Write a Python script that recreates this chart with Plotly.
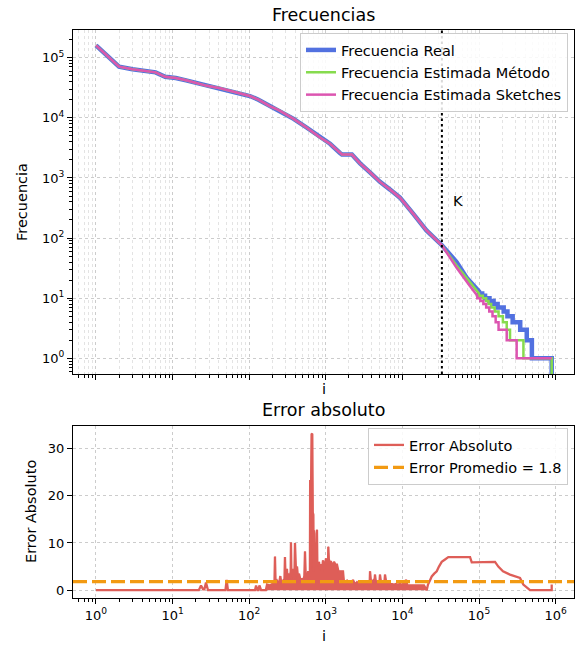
import math
import plotly.graph_objects as go

# ---------------------------------------------------------------- data
K = 32768            # number of exactly-counted items
N_ITEMS = 889000     # last rank
ERROR_MEAN = 1.8

# rank/frequency head shared by the three curves (ranks 1 .. K)
head_rank = [1, 2, 3, 5, 6, 8, 11, 15, 19, 28, 42, 62, 102, 132, 188, 240,
             380, 560, 840, 1135, 1530, 1625, 2190, 2800, 3800, 5100, 6900,
             9300, 13800, 20600, K]
head_freq = [1.6e5, 7.1e4, 6.4e4, 6.0e4, 5.7e4, 4.8e4, 4.6e4, 4.2e4, 3.9e4,
             3.4e4, 3.1e4, 2.75e4, 2.3e4, 2.0e4, 1.55e4, 1.35e4, 9.6e3, 6.9e3,
             4.7e3, 3.7e3, 2.6e3, 2.45e3, 2.45e3, 1.75e3, 1.23e3, 860, 640,
             470, 255, 134, 76]

# real frequency after K
real_tail_rank = [51000, 69000, 100000]
real_tail_freq = [40, 22, 13]
real_step_start = [1.0e5, 1.1e5, 1.2e5, 1.37e5, 1.55e5, 1.75e5, 2.1e5,
                   2.35e5, 2.75e5, 3.45e5, 4.2e5, 4.9e5]
real_step_level = [12, 11, 10, 9, 8, 7, 6, 5, 4, 3, 2, 1]

# estimated frequency (method) after K
met_tail_rank = [51000, 76000, 100000]
met_tail_freq = [35, 18.6, 12]
met_step_start = [1.0e5, 1.12e5, 1.24e5, 1.33e5, 1.44e5, 1.6e5, 1.8e5,
                  2.05e5, 2.3e5, 2.54e5, 3.8e5]
met_step_level = [11, 10, 9, 8, 7, 6, 5, 4, 3, 2, 1]

# estimated frequency (sketches) after K
sk_tail_rank = [51000, 76000, 95000]
sk_tail_freq = [32, 16, 11]
sk_step_start = [9.5e4, 1.04e5, 1.14e5, 1.24e5, 1.36e5, 1.5e5, 1.65e5,
                 1.8e5, 2.3e5, 3.1e5]
sk_step_level = [10, 9, 8, 7, 6, 5, 4, 3, 2, 1]

# absolute error, low ranks
err_low_rank = [1, 22, 23.5, 25, 26, 27.3, 29, 49, 50.8, 52.8, 119, 123, 128,
                132, 136, 143, 165]
err_low_val = [0, 0, 1.0, 0.2, 0.2, 1.6, 0, 0, 2.2, 0, 0, 1.0, 0, 0, 1.0, 0, 0]

# absolute error, dense region
err_dense_rank = [171, 187, 200, 210, 214, 217, 221, 231, 245, 255, 262, 276,
                  288, 293, 299, 305, 311, 318, 326, 338, 348, 351, 356, 364,
                  373, 381, 390, 396, 402, 410, 421, 434, 447, 470, 490, 504,
                  525, 535, 548, 568, 590, 610, 620, 625, 641, 652, 666, 676,
                  688, 696, 701, 710, 722, 745, 762, 767, 775, 800, 815, 840,
                  866, 890, 919, 960, 1006, 1040, 1070, 1079, 1095, 1130, 1169,
                  1220, 1280, 1340, 1400, 1460, 1532, 1600, 1678, 1730, 1781,
                  1900, 2070, 2180, 2265, 2400, 2555, 2750, 2970, 3150, 3350,
                  3600, 3740, 3780, 3900, 4130, 4300, 4385, 4550, 4800, 5000,
                  5100, 5300, 5585, 5800, 5930, 6200, 6490, 7000, 7320, 7800,
                  8250, 8700, 9300, 9700, 10180, 10800, 11140, 11600, 12560,
                  13500, 14600, 15800, 16980, 18000, 19140, 20750]
err_dense_val = [1.2, 1.0, 1.3, 1.2, 2.0, 7.1, 1.5, 2.0, 1.3, 3.0, 1.5, 2.0,
                 1.5, 7.0, 2.0, 3.0, 4.5, 2.0, 3.5, 2.5, 4.0, 10.1, 3.0, 4.0,
                 4.5, 2.5, 3.5, 10.0, 4.0, 3.0, 5.0, 2.5, 3.5, 2.0, 2.5, 2.0,
                 3.0, 8.2, 2.5, 2.5, 4.0, 3.0, 3.0, 23.3, 20.0, 33.0, 33.1, 16.4,
                 16.0, 4.0, 12.6, 12.0, 5.0, 6.0, 5.0, 12.8, 6.0, 5.5, 6.0, 4.5,
                 5.5, 4.0, 6.3, 4.5, 6.7, 5.5, 6.0, 9.2, 6.5, 6.0, 6.0,
                 5.0, 6.0, 5.4, 5.4, 4.0, 4.0, 4.0, 4.0, 1.5, 1.2,
                 2.0, 1.2, 1.5, 2.2, 1.2, 1.7, 1.2, 1.7, 1.2, 1.7,
                 1.3, 1.5, 4.0, 1.5, 2.0, 1.3, 3.3, 1.2, 2.0, 1.3,
                 3.3, 1.2, 2.0, 1.3, 3.3, 1.2, 2.0, 1.3, 1.3, 1.2,
                 1.3, 1.2, 1.3, 1.2, 1.3, 1.3, 2.2, 1.0, 1.0,
                 1.0, 1.0, 1.0, 1.0, 1.0, 1.0, 0]

# absolute error, high ranks
err_high_rank = [21580, 22800, 24140, 26000, 28060, 30000, 32600, 36000,
                 39740, 60000, 76400, 80400, 120000, 161800, 178600, 205700,
                 254000, 300000, 342800, 378600, 463400, N_ITEMS, N_ITEMS]
err_high_val = [1.2, 2.0, 2.9, 3.5, 4.0, 5.0, 6.0, 6.5, 7.0, 7.0, 7.0, 5.9,
                6.0, 6.0, 5.0, 4.0, 3.3, 3.0, 2.6, 1.2, 0, 0, 1.2]

# ---------------------------------------------------------------- style
FONT = "DejaVu Sans"
C_REAL = "#5271e0"
C_MET = "#86db4e"
C_SK = "#dc55b0"
C_ERR = "#de5e58"
C_AVG = "#f29a12"
GRID = "rgba(0,0,0,0.2)"
GRID_MINOR = "rgba(0,0,0,0.11)"

W, H = 579, 647
ML, MR, MT, MB = 73, 5, 30, 49
PW, PH = W - ML - MR, H - MT - MB


def py(pix):
    """page pixel row -> paper y"""
    return (H - MB - pix) / PH


def px(pix):
    """page pixel column -> paper x"""
    return (pix - ML) / PW


X_RANGE = [-0.30, 6.24]
Y1_RANGE = [-0.26, 5.46]
Y2_RANGE = [-1.65, 34.75]
LOG_FLOOR = 1e-3   # non-positive values are clipped below the axis


def curve(tail_r, tail_f, starts, levels, end, final=None):
    xs = list(head_rank) + list(tail_r)
    ys = list(head_freq) + list(tail_f)
    for k, (s, v) in enumerate(zip(starts, levels)):
        e = starts[k + 1] if k + 1 < len(starts) else end
        xs += [s, e]
        ys += [v, v]
    if final is not None:
        xs.append(end)
        ys.append(final)
    ys = [y if y > 0 else LOG_FLOOR for y in ys]
    return xs, ys


rx, ry = curve(real_tail_rank, real_tail_freq, real_step_start,
               real_step_level, N_ITEMS, final=0)
mx, my = curve(met_tail_rank, met_tail_freq, met_step_start,
               met_step_level, N_ITEMS, final=0)
sx, sy = curve(sk_tail_rank, sk_tail_freq, sk_step_start,
               sk_step_level, N_ITEMS)

fig = go.Figure()

fig.add_trace(go.Scatter(x=rx, y=ry, mode="lines", name="Frecuencia Real",
                         line=dict(color=C_REAL, width=4.5),
                         xaxis="x", yaxis="y", legend="legend",
                         legendgroup="a"))
fig.add_trace(go.Scatter(x=mx, y=my, mode="lines",
                         name="Frecuencia Estimada Método",
                         line=dict(color=C_MET, width=2.5),
                         xaxis="x", yaxis="y", legend="legend",
                         legendgroup="b"))
fig.add_trace(go.Scatter(x=sx, y=sy, mode="lines",
                         name="Frecuencia Estimada Sketches",
                         line=dict(color=C_SK, width=2.5),
                         xaxis="x", yaxis="y", legend="legend",
                         legendgroup="c"))

# error: dense oscillation region rendered as a solid band
fig.add_trace(go.Scatter(x=err_dense_rank, y=err_dense_val, mode="lines",
                         fill="tozeroy", fillcolor=C_ERR,
                         line=dict(color=C_ERR, width=1),
                         showlegend=False, hoverinfo="skip",
                         xaxis="x2", yaxis="y2"))
err_rank = err_low_rank + err_dense_rank + err_high_rank
err_val = err_low_val + err_dense_val + err_high_val
fig.add_trace(go.Scatter(x=err_rank, y=err_val, mode="lines",
                         name="Error Absoluto",
                         line=dict(color=C_ERR, width=2.3),
                         xaxis="x2", yaxis="y2", legend="legend2",
                         legendgroup="d"))
fig.add_trace(go.Scatter(x=[10 ** X_RANGE[0], 10 ** X_RANGE[1]],
                         y=[ERROR_MEAN, ERROR_MEAN], mode="lines",
                         name=f"Error Promedio = {ERROR_MEAN}",
                         line=dict(color=C_AVG, width=3.2, dash="14px,5px"),
                         xaxis="x2", yaxis="y2", legend="legend2",
                         legendgroup="e"))

# K marker
fig.add_shape(type="line", xref="x", yref="y domain",
              x0=K, x1=K, y0=0, y1=1,
              line=dict(color="black", width=2, dash="2.5px,3px"))
fig.add_annotation(x=math.log10(K * 1.32), y=math.log10(420), xref="x",
                   yref="y", text="K", showarrow=False, xanchor="left",
                   yanchor="middle", font=dict(size=14.5, color="black"))

dec_vals = [10 ** d for d in range(0, 7)]
dec_text = [f"10<sup>{d}</sup>" for d in range(0, 7)]
minor_vals = [k * 10 ** d for d in range(-1, 7) for k in range(2, 10)]

axis_common = dict(showline=True, linecolor="black", linewidth=1,
                   mirror=True, ticks="outside", ticklen=5, tickwidth=1,
                   tickcolor="black", zeroline=False,
                   tickfont=dict(size=13, color="black"))

xminor = dict(tickmode="array", tickvals=minor_vals, ticks="outside",
              ticklen=3, tickwidth=0.8, tickcolor="black")

fig.update_layout(
    width=W, height=H,
    margin=dict(l=ML, r=MR, t=MT, b=MB, pad=0),
    paper_bgcolor="white", plot_bgcolor="white",
    font=dict(family=FONT, color="black"),
    xaxis=dict(type="log", range=X_RANGE, domain=[0, 1], anchor="y",
               tickmode="array", tickvals=dec_vals, showticklabels=False,
               showgrid=True, gridcolor=GRID, griddash="dot", gridwidth=0.8,
               minor=dict(xminor, showgrid=True, gridcolor=GRID_MINOR,
                          griddash="dot", gridwidth=0.7),
               **axis_common),
    yaxis=dict(type="log", range=Y1_RANGE, domain=[py(374), 1], anchor="x",
               tickmode="array", tickvals=[10 ** d for d in range(0, 6)],
               ticktext=[f"10<sup>{d}</sup>" for d in range(0, 6)],
               showgrid=True, gridcolor=GRID, griddash="dot", gridwidth=0.8,
               minor=dict(tickmode="array", tickvals=minor_vals,
                          ticks="outside", ticklen=3, tickwidth=0.8,
                          tickcolor="black", showgrid=False),
               **axis_common),
    xaxis2=dict(type="log", range=X_RANGE, domain=[0, 1], anchor="y2",
                tickmode="array", tickvals=dec_vals, ticktext=dec_text,
                showgrid=True, gridcolor=GRID, griddash="dot", gridwidth=0.8,
                minor=dict(xminor, showgrid=False),
                **axis_common),
    yaxis2=dict(range=Y2_RANGE, domain=[0, py(426)], anchor="x2",
                tickmode="array", tickvals=[0, 10, 20, 30],
                showgrid=True, gridcolor=GRID, griddash="dot", gridwidth=0.8,
                **axis_common),
    legend=dict(x=px(568), y=py(33), xanchor="right", yanchor="top",
                bgcolor="rgba(255,255,255,0.85)", bordercolor="#cccccc",
                borderwidth=1, font=dict(size=14.5, color="black"),
                tracegroupgap=0.5, itemwidth=30),
    legend2=dict(x=px(568), y=py(428), xanchor="right", yanchor="top",
                 bgcolor="rgba(255,255,255,0.85)", bordercolor="#cccccc",
                 borderwidth=1, font=dict(size=14.5, color="black"),
                 tracegroupgap=0.5, itemwidth=30),
)

titles = [
    dict(text="Frecuencias", x=0.5, y=py(15), size=17.5, angle=0),
    dict(text="Error absoluto", x=0.5, y=py(410), size=17.5, angle=0),
    dict(text="i", x=0.5, y=py(389), size=14.5, angle=0),
    dict(text="i", x=0.5, y=py(636), size=14.5, angle=0),
    dict(text="Frecuencia", x=px(22), y=py(202), size=14.5, angle=-90),
    dict(text="Error Absoluto", x=px(31), y=py(512), size=14.5, angle=-90),
]
for t in titles:
    fig.add_annotation(text=t["text"], x=t["x"], y=t["y"], xref="paper",
                       yref="paper", showarrow=False, xanchor="center",
                       yanchor="middle", textangle=t["angle"],
                       font=dict(size=t["size"], color="black"))

fig.write_html("out.html")
